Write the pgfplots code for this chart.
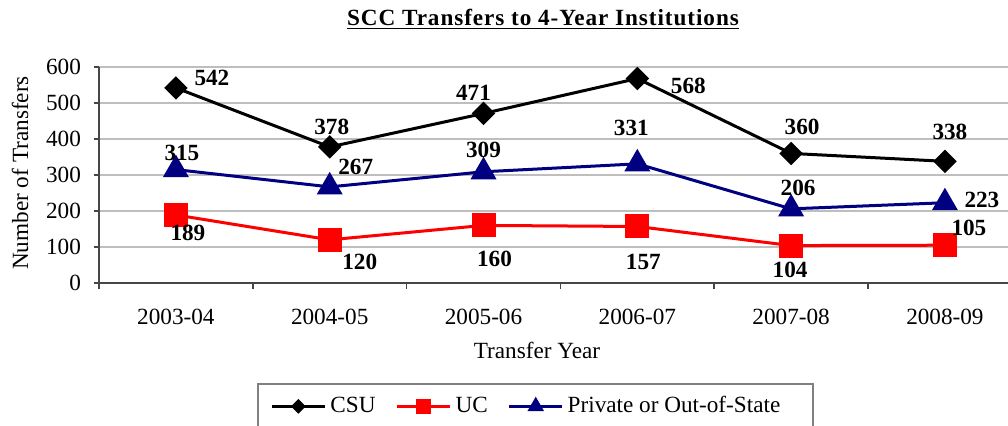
\documentclass[border=0pt]{standalone}
\usepackage{pgfplots}
\pgfplotsset{compat=1.18}
\usepackage{pgfplotstable}
\usepackage{fontspec}
\setmainfont{Liberation Serif}
\definecolor{navyblue}{RGB}{0,0,128}
\definecolor{axgray}{RGB}{70,70,70}
\definecolor{gridgray}{RGB}{190,190,190}
\definecolor{ucred}{RGB}{255,0,0}

\pgfplotstableread{
x y dx dy
0 542 18 5
1 378 1 10
2 471 -5 10.5
3 568 25.5 -3.75
4 360 5.5 13.5
5 338 2.5 14.5
}\csu
\pgfplotstableread{
x y dx dy
0 189 6 -9
1 120 15 -11
2 160 5.5 -16.5
3 157 3 -17.5
4 104 -0.5 -12
5 105 12 8.5
}\uc
\pgfplotstableread{
x y dx dy
0 315 3 8.5
1 267 13 10
2 309 0 11
3 331 -3 18
4 206 3.5 10.5
5 223 18.5 1.5
}\priv

\pgfplotsset{datalabels/.style={
  nodes near coords,
  point meta=explicit symbolic,
  visualization depends on={\thisrow{dx} \as \dx},
  visualization depends on={\thisrow{dy} \as \dy},
  every node near coord/.append style={anchor=center, xshift=\dx pt, yshift=\dy pt,
    font=\fontsize{11.6}{13}\selectfont\bfseries, text=black, inner sep=0pt},
}}

\begin{document}
\fontsize{11.6}{13}\selectfont
\begin{tikzpicture}
\useasboundingbox (0,0) rectangle (504pt,212.5pt);
\begin{axis}[
  at={(49.5pt,71pt)}, anchor=south west,
  scale only axis, width=454.5pt, height=108pt,
  xmin=-0.5, xmax=5.41, ymin=0, ymax=600,
  axis lines*=left,
  axis line style={axgray, line width=1pt},
  clip=false,
  xtick={0,...,5},
  xticklabels={2003-04,2004-05,2005-06,2006-07,2007-08,2008-09},
  minor xtick={-0.5,0.5,1.5,2.5,3.5,4.5},
  major x tick style={draw=none},
  minor x tick style={axgray, line width=0.8pt},
  minor tick length=3pt,
  ytick={0,100,...,600},
  major tick length=2.5pt,
  y tick style={axgray, line width=0.8pt},
  tick align=outside,
  ymajorgrids=true,
  grid style={gridgray, line width=0.6pt},
  xticklabel style={yshift=-6.5pt},
  yticklabel style={xshift=-2.5pt},
  /pgf/number format/assume math mode=true,
  ticklabel style={font=\fontsize{11.6}{13}\selectfont},
  legend columns=3,
  legend style={at={(0.1749,-0.4676)}, anchor=north west, draw=none, fill=none,
    font=\fontsize{11.6}{13}\selectfont, inner xsep=6pt, inner ysep=4pt,
    /tikz/every even column/.append style={column sep=8pt}},
  legend cell align=left,
  legend image code/.code={
    \draw[#1, every mark/.append style={scale=0.55}, mark repeat=2, mark phase=2]
      plot coordinates {(0pt,0pt) (13.25pt,0pt) (26.5pt,0pt)};
  },
]
\addplot[black, line width=1.5pt, mark=square*, mark size=3.4pt,
  mark options={rotate=45, solid}, datalabels] table[x=x, y=y, meta=y] {\csu};
\addlegendentry{CSU}
\addplot[ucred, line width=1.5pt, mark=square*, mark size=5.25pt,
  mark options={solid}, datalabels] table[x=x, y=y, meta=y] {\uc};
\addlegendentry{UC}
\addplot[navyblue, line width=1.5pt, mark=triangle*, mark size=6pt,
  mark options={solid}, datalabels] table[x=x, y=y, meta=y] {\priv};
\addlegendentry{Private or Out-of-State}
\end{axis}
\node at (271.5pt,203pt) {\addfontfeature{LetterSpace=4}\bfseries\underline{SCC Transfers to 4-Year Institutions}};
\node[rotate=90] at (10pt,126pt) {Number of Transfers};
\node at (268.5pt,37.5pt) {Transfer Year};
\draw[gray, line width=0.8pt] (129pt,-5pt) |- (406.5pt,20.5pt) -- (406.5pt,-5pt);
\end{tikzpicture}
\end{document}
